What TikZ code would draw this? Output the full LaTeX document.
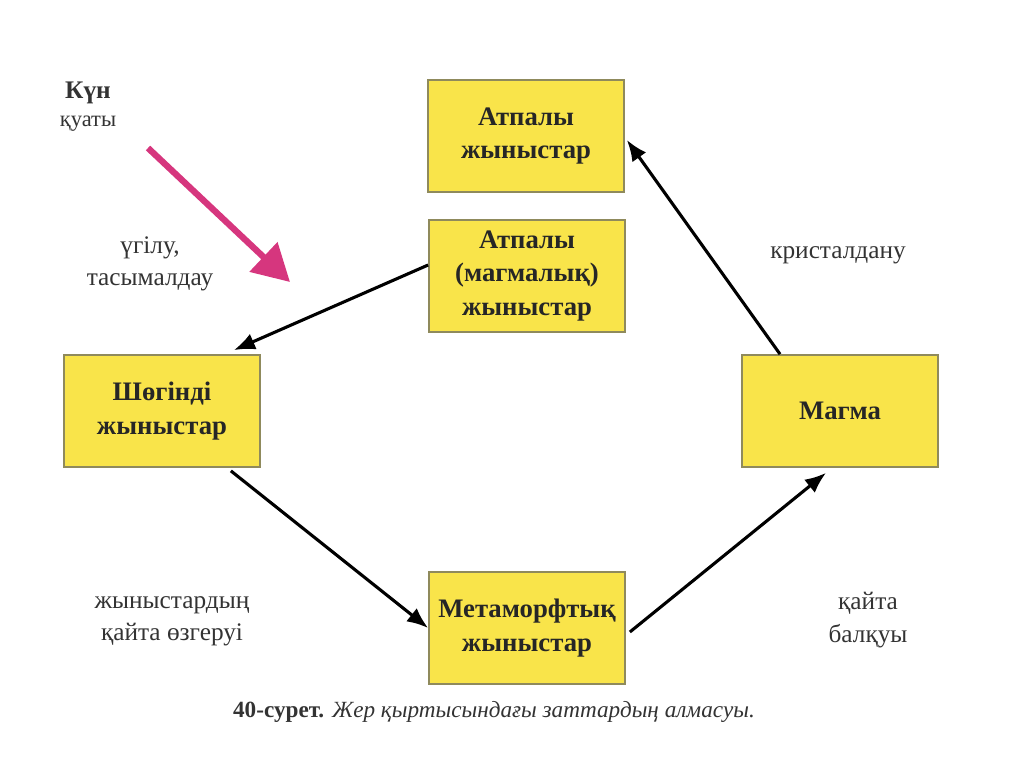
\documentclass[tikz,border=0pt]{standalone}
\usepackage{fontspec}
\setmainfont{Liberation Serif}
\usetikzlibrary{arrows.meta, calc}
\definecolor{rockFill}{HTML}{F9E44A}
\definecolor{rockDraw}{HTML}{8F8A5C}
\definecolor{sunArrow}{HTML}{D6367E}
\definecolor{lblText}{HTML}{333333}

\begin{document}
\begin{tikzpicture}[x=0.025cm, y=-0.025cm,
  rock/.style={draw=rockDraw, line width=1.2pt, fill=rockFill, minimum width=4.9cm, minimum height=2.8cm, align=center, font=\fontsize{19}{24}\selectfont\bfseries, text=black!85},
  lbl/.style={align=center, font=\fontsize{18}{23}\selectfont, text=lblText},
  flow/.style={-{Latex[length=15pt,width=12pt]}, line width=2.2pt}]
\useasboundingbox (0,0) rectangle (1024,767);
% rocks
\node[rock] (igTop) at (526,136) {Атпалы\\жыныстар};
\node[rock] (igMag) at (527,276) {Атпалы\\(магмалық)\\жыныстар};
\node[rock] (sed) at (162,411) {Шөгінді\\жыныстар};
\node[rock] (magma) at (840,411) {Магма};
\node[rock] (meta) at (527,628) {Метаморфтық\\жыныстар};
% labels
\node[lbl, font=\fontsize{16}{20}\selectfont] (sunLbl) at (88,107) {\textbf{\fontsize{18}{20}\selectfont Күн}\\қуаты};
\node[lbl] (weather) at (150,264) {үгілу,\\тасымалдау};
\node[lbl] (cryst) at (838,255) {кристалдану};
\node[lbl] (change) at (172,621) {жыныстардың\\қайта өзгеруі};
\node[lbl] (remelt) at (868,620) {қайта\\балқуы};
\node[font=\fontsize{16.5}{20}\selectfont, text=lblText] (caption) at (494,712) {\textbf{40-сурет.} \textit{Жер қыртысындағы заттардың алмасуы.}};
% cycle
\draw[flow] ($(igMag.west)+(0,-11)$) -- ($(sed.north east)+(-27,-4)$);
\draw[flow] ($(sed.south east)+(-30,3)$) -- (meta.west);
\draw[flow] ($(meta.east)+(4,4)$) -- ($(magma.south)+(-14,5)$);
\draw[flow] ($(magma.north)+(-60,0)$) -- ($(igTop.east)+(2,4)$);
% sun
\coordinate (sunStart) at (148,148);
\coordinate (sunEnd) at (290,282);
\draw[sunArrow, line width=4.5pt, -{Triangle[length=26pt,width=28pt]}] (sunStart) -- (sunEnd);
\end{tikzpicture}
\end{document}
